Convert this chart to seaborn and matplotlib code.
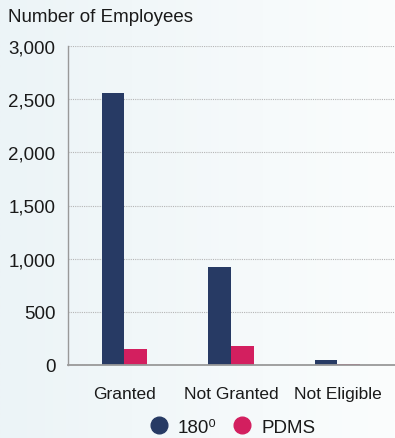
import numpy as np
import pandas as pd
import matplotlib
matplotlib.use("Agg")
import matplotlib.pyplot as plt
from matplotlib.lines import Line2D
from matplotlib.ticker import FuncFormatter
import seaborn as sns

# data
categories = ["Granted", "Not Granted", "Not Eligible"]
series_names = ["180\u2070", "PDMS"]
values_180 = [2560, 925, 50]
values_pdms = [150, 180, 12]
colors = ["#273a64", "#d31f5f"]

df = pd.DataFrame({
    "category": categories * 2,
    "series": [series_names[0]] * 3 + [series_names[1]] * 3,
    "employees": values_180 + values_pdms,
})

sns.set_style("white")
plt.rcParams["font.family"] = ["Liberation Sans", "DejaVu Sans"]
txt = "#1a1a1a"

fig = plt.figure(figsize=(3.95, 4.39), dpi=100)

# soft horizontal gradient background
bg = fig.add_axes([0, 0, 1, 1], zorder=-1)
grad = np.linspace(0, 1, 256).reshape(1, -1)
cmap = matplotlib.colors.LinearSegmentedColormap.from_list("bg", ["#ecf4f7", "#fbfdfd"])
bg.imshow(grad, aspect="auto", cmap=cmap, extent=[0, 1, 0, 1])
bg.axis("off")

ax = fig.add_axes([68 / 395, 1 - 366 / 439, 1 - 68 / 395, (366 - 47) / 439])
ax.set_facecolor("none")

sns.barplot(data=df, x="category", y="employees", hue="series", order=categories,
            hue_order=series_names, palette=colors, width=0.43, saturation=1,
            linewidth=0, legend=False, ax=ax)

ax.set_ylim(0, 3000)
ax.set_xlim(-0.53, 2.54)
ax.set_yticks([0, 500, 1000, 1500, 2000, 2500, 3000])
ax.yaxis.set_major_formatter(FuncFormatter(lambda v, p: f"{int(v):,}"))
ax.yaxis.grid(True, linestyle=(0, (1, 1)), color="#b5b5b5", linewidth=0.8)
ax.set_axisbelow(True)
ax.set_xlabel("")
ax.set_ylabel("")
ax.tick_params(axis="x", length=0, pad=15, labelsize=12.5, colors=txt)
ax.tick_params(axis="y", length=0, pad=9, labelsize=13.5, colors=txt)
for side in ["top", "right"]:
    ax.spines[side].set_visible(False)
ax.spines["left"].set_color("#999999")
ax.spines["bottom"].set_color("#999999")
ax.spines["left"].set_linewidth(1)
ax.spines["bottom"].set_linewidth(1.3)

fig.text(8 / 395, 1 - 18 / 439, "Number of Employees", fontsize=13.5, va="center",
         ha="left", color=txt)

handles = [Line2D([], [], marker="o", linestyle="", markersize=12, color=c) for c in colors]
fig.legend(handles, series_names, loc="center", bbox_to_anchor=(0.588, 1 - 428 / 439),
           ncol=2, frameon=False, fontsize=13.5, labelcolor=txt, handlelength=1,
           handletextpad=0.5, columnspacing=0.9)

fig.savefig("out.png", dpi=100)
